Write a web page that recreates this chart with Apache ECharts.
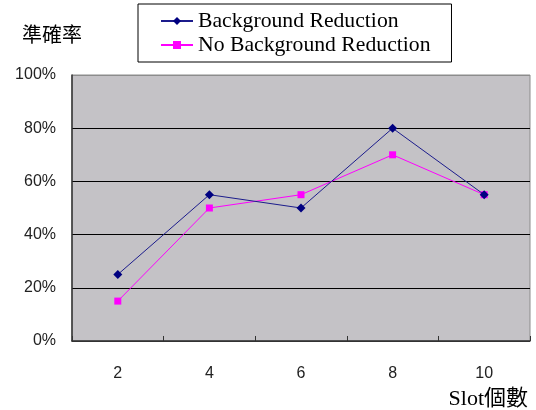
<!DOCTYPE html>
<html>
<head>
<meta charset="utf-8">
<script src="https://cdn.jsdelivr.net/npm/echarts@6/dist/echarts.min.js"></script>
<style>
  html, body { margin: 0; padding: 0; background: #fff; }
  #chart { width: 536px; height: 410px; }
</style>
</head>
<body>
<div id="chart"></div>
<script>
// Slot counts along the x axis
const slots = ['2', '4', '6', '8', '10'];
// Accuracy (%) for each configuration
const withReduction = [25, 55, 50, 80, 55];
const withoutReduction = [15, 50, 55, 70, 55];
const seriesNames = ['Background Reduction', 'No Background Reduction'];

const chart = echarts.init(document.getElementById('chart'), null, { renderer: 'canvas' });

chart.setOption({
  backgroundColor: '#ffffff',
  animation: false,
  grid: {
    left: 72, right: 6, top: 75, bottom: 68,
    show: true,
    backgroundColor: '#c4c2c6',
    borderColor: '#8c8c8c',
    borderWidth: 1
  },
  legend: {
    orient: 'vertical',
    left: 138,
    top: 4,
    padding: [6, 21, 6, 22],
    itemGap: 2,
    itemWidth: 32,
    itemHeight: 10,
    borderColor: '#000',
    borderWidth: 1,
    backgroundColor: '#fff',
    textStyle: {
      fontFamily: 'Liberation Serif',
      fontSize: 21.7,
      color: '#000',
      lineHeight: 22
    },
    data: seriesNames
  },
  xAxis: {
    type: 'category',
    data: slots,
    boundaryGap: true,
    name: 'Slot個數',
    nameLocation: 'end',
    nameGap: 0,
    nameTextStyle: {
      fontFamily: 'Liberation Serif, Noto Sans CJK TC',
      fontSize: 22,
      color: '#000',
      align: 'right',
      verticalAlign: 'top',
      padding: [47, 2, 0, 0]
    },
    axisLine: { lineStyle: { color: '#333', width: 1.5 } },
    axisTick: { show: true, inside: true, length: 5, lineStyle: { color: '#333' } },
    axisLabel: {
      margin: 25,
      fontFamily: 'Liberation Sans',
      fontSize: 16,
      color: '#222'
    },
    splitLine: { show: false }
  },
  yAxis: {
    type: 'value',
    min: 0,
    max: 100,
    interval: 20,
    name: '準確率',
    nameLocation: 'end',
    nameGap: 31,
    nameTextStyle: {
      fontFamily: 'Noto Sans CJK TC',
      fontSize: 20,
      color: '#000',
      align: 'center',
      padding: [0, 40, 0, 0]
    },
    axisLine: { show: true, lineStyle: { color: '#333', width: 1.5 } },
    axisTick: { show: false },
    axisLabel: {
      formatter: '{value}%',
      margin: 16,
      fontFamily: 'Liberation Sans',
      fontSize: 16,
      color: '#222'
    },
    splitLine: {
      show: true,
      lineStyle: { color: ['#333', '#000', '#000', '#000', '#000', '#8c8c8c'], width: 1.2 }
    }
  },
  series: [
    {
      name: seriesNames[0],
      type: 'line',
      data: withReduction,
      symbol: 'diamond',
      symbolSize: 9,
      itemStyle: { color: '#000080' },
      lineStyle: { color: '#1c1c8c', width: 1 },
      z: 3
    },
    {
      name: seriesNames[1],
      type: 'line',
      data: withoutReduction,
      symbol: 'rect',
      symbolSize: 7,
      itemStyle: { color: '#ff00ff' },
      lineStyle: { color: '#ff00ff', width: 1 },
      z: 2
    }
  ]
});
</script>
</body>
</html>
